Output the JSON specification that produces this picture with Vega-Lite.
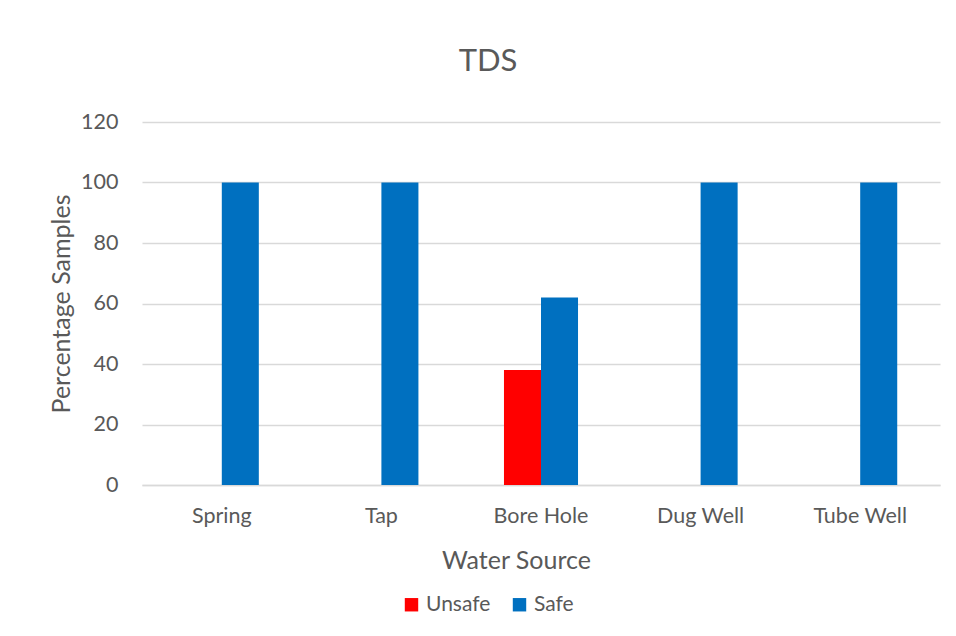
{
  "$schema": "https://vega.github.io/schema/vega-lite/v6.json",
  "autosize": {"type": "none"},
  "width": 798,
  "height": 363,
  "padding": {"left": 142, "top": 122, "right": 16, "bottom": 151},
  "background": "white",
  "title": {
    "text": "TDS",
    "fontSize": 31,
    "font": "Lato",
    "fontWeight": "normal",
    "color": "#595959",
    "anchor": "middle",
    "frame": "group",
    "dx": -53,
    "offset": 33
  },
  "data": {
    "values": [
      {"source": "Spring", "status": "Unsafe", "pct": 0},
      {"source": "Spring", "status": "Safe", "pct": 100},
      {"source": "Tap", "status": "Unsafe", "pct": 0},
      {"source": "Tap", "status": "Safe", "pct": 100},
      {"source": "Bore Hole", "status": "Unsafe", "pct": 38},
      {"source": "Bore Hole", "status": "Safe", "pct": 62},
      {"source": "Dug Well", "status": "Unsafe", "pct": 0},
      {"source": "Dug Well", "status": "Safe", "pct": 100},
      {"source": "Tube Well", "status": "Unsafe", "pct": 0},
      {"source": "Tube Well", "status": "Safe", "pct": 100}
    ]
  },
  "mark": {"type": "bar"},
  "encoding": {
    "x": {
      "field": "source",
      "type": "nominal",
      "sort": ["Spring", "Tap", "Bore Hole", "Dug Well", "Tube Well"],
      "scale": {"paddingInner": 0.536, "paddingOuter": 0.268},
      "axis": {
        "title": "Water Source",
        "labelAngle": 0,
        "ticks": false,
        "labelPadding": 20,
        "domainColor": "#d9d9d9",
        "domainWidth": 1.5,
        "titleX": 374,
        "titleY": 63
      }
    },
    "xOffset": {"field": "status", "type": "nominal", "sort": ["Unsafe", "Safe"]},
    "y": {
      "field": "pct",
      "type": "quantitative",
      "scale": {"domain": [0, 120], "nice": false},
      "axis": {
        "title": "Percentage Samples",
        "values": [0, 20, 40, 60, 80, 100, 120],
        "ticks": false,
        "domain": false,
        "labelPadding": 24,
        "gridColor": "#d9d9d9",
        "gridWidth": 1.3,
        "titleX": -68,
        "titleY": 181.5
      }
    },
    "color": {
      "field": "status",
      "type": "nominal",
      "sort": ["Unsafe", "Safe"],
      "scale": {"domain": ["Unsafe", "Safe"], "range": ["#FF0000", "#0070C0"]},
      "legend": {
        "title": null,
        "orient": "none",
        "direction": "horizontal",
        "legendX": 259,
        "legendY": 472,
        "symbolType": "square",
        "symbolSize": 180,
        "symbolStrokeWidth": 0,
        "symbolOpacity": 1,
        "labelFontSize": 21,
        "labelFont": "Lato",
        "labelColor": "#595959",
        "columnPadding": 18,
        "labelOffset": 4
      }
    }
  },
  "config": {
    "view": {"stroke": null},
    "axis": {
      "labelFont": "Lato",
      "labelFontSize": 21.5,
      "labelColor": "#595959",
      "titleFont": "Lato",
      "titleFontSize": 25,
      "titleFontWeight": "normal",
      "titleColor": "#595959"
    }
  }
}
